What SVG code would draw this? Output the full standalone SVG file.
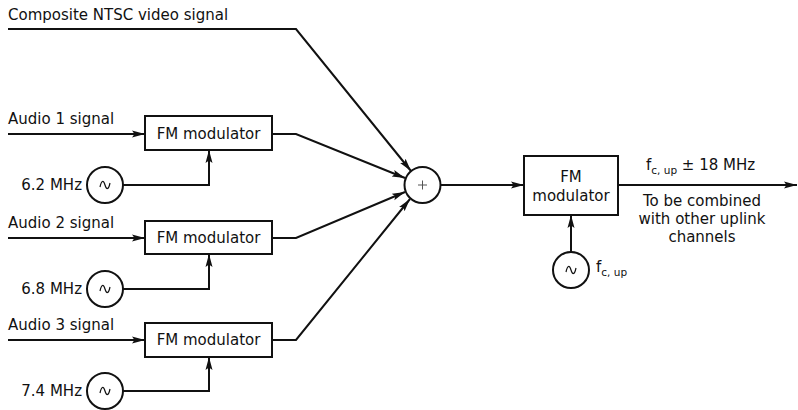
<svg xmlns="http://www.w3.org/2000/svg" width="798" height="410" viewBox="0 0 798 410">
<style>
text{font-family:"DejaVu Sans","Liberation Sans",sans-serif;font-size:15px;fill:#111}
.ln{fill:none;stroke:#111;stroke-width:2}
.bx{fill:#fff;stroke:#111;stroke-width:2}
.sine{fill:none;stroke:#111;stroke-width:1.2}
.sub{font-size:10.5px}
</style>
<defs>
<marker id="ah" markerUnits="userSpaceOnUse" markerWidth="14" markerHeight="10" refX="13" refY="4" orient="auto">
<path d="M0,0.5 L13,4 L0,7.5 L2.5,4 z" fill="#111"/>
</marker>
</defs>

<g id="connectors">
<path class="ln" d="M8,29 H296 L411,171" marker-end="url(#ah)"/>
<path class="ln" d="M8,134 H145" marker-end="url(#ah)"/>
<path class="ln" d="M272,134 H296 L405,178" marker-end="url(#ah)"/>
<path class="ln" d="M123,185 H209 V150" marker-end="url(#ah)"/>
<path class="ln" d="M8,238 H145" marker-end="url(#ah)"/>
<path class="ln" d="M272,238 H296 L405,192" marker-end="url(#ah)"/>
<path class="ln" d="M123,289 H209 V254" marker-end="url(#ah)"/>
<path class="ln" d="M8,340 H145" marker-end="url(#ah)"/>
<path class="ln" d="M272,340 H296 L410,199" marker-end="url(#ah)"/>
<path class="ln" d="M123,391 H209 V357" marker-end="url(#ah)"/>
<path class="ln" d="M441,185 H524" marker-end="url(#ah)"/>
<path class="ln" d="M571,252 V215" marker-end="url(#ah)"/>
<path class="ln" d="M618,185 H797" marker-end="url(#ah)"/>
</g>

<g id="label-composite"><text x="8" y="20">Composite NTSC video signal</text></g>
<g id="label-audio1"><text x="8" y="124">Audio 1 signal</text></g>
<g id="label-audio2"><text x="8" y="228">Audio 2 signal</text></g>
<g id="label-audio3"><text x="8" y="330">Audio 3 signal</text></g>

<g id="fm1"><rect class="bx" x="145" y="116" width="127" height="34"/><text x="208.5" y="139" text-anchor="middle">FM modulator</text></g>
<g id="fm2"><rect class="bx" x="145" y="221" width="127" height="33"/><text x="208.5" y="243" text-anchor="middle">FM modulator</text></g>
<g id="fm3"><rect class="bx" x="145" y="323" width="127" height="34"/><text x="208.5" y="345" text-anchor="middle">FM modulator</text></g>

<g id="osc1"><circle class="bx" cx="105" cy="185" r="18"/><path class="sine" d="M100,187 C101.5,180 103.5,180 105,185 C106.5,190 108.5,190 110,183"/><text x="82" y="190" text-anchor="end">6.2 MHz</text></g>
<g id="osc2"><circle class="bx" cx="105" cy="289" r="18"/><path class="sine" d="M100,291 C101.5,284 103.5,284 105,289 C106.5,294 108.5,294 110,287"/><text x="82" y="294" text-anchor="end">6.8 MHz</text></g>
<g id="osc3"><circle class="bx" cx="105" cy="391" r="18"/><path class="sine" d="M100,393 C101.5,386 103.5,386 105,391 C106.5,396 108.5,396 110,389"/><text x="82" y="396" text-anchor="end">7.4 MHz</text></g>

<g id="sum"><circle class="bx" cx="422.5" cy="185" r="18"/><path d="M418,185 H427 M422.5,180.5 V189.5" stroke="#555" stroke-width="1"/></g>

<g id="fm-main"><rect class="bx" x="524" y="156" width="94" height="59"/><text x="571" y="182" text-anchor="middle">FM</text><text x="571" y="201" text-anchor="middle">modulator</text></g>

<g id="osc-main"><circle class="bx" cx="571" cy="270" r="18"/><path class="sine" d="M566,272 C567.5,265 569.5,265 571,270 C572.5,275 574.5,275 576,268"/><text x="596" y="272">f<tspan class="sub" dy="4">c, up</tspan></text></g>

<g id="label-out"><text x="646" y="170">f<tspan class="sub" dy="4">c, up</tspan><tspan dy="-4"> ± 18 MHz</tspan></text>
<text x="702" y="206" text-anchor="middle">To be combined</text>
<text x="702" y="224" text-anchor="middle">with other uplink</text>
<text x="702" y="242" text-anchor="middle">channels</text></g>
</svg>
